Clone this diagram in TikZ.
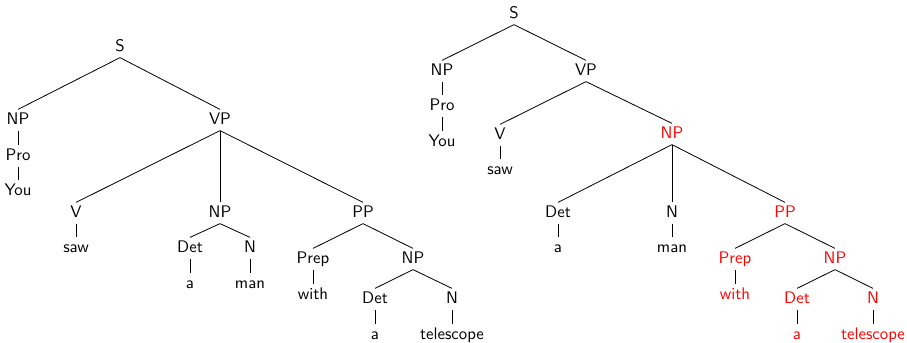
\documentclass[tikz,border=0pt]{standalone}
\begin{document}
\begin{tikzpicture}[x=0.62pt,y=-0.62pt,
  every node/.style={font=\sffamily\fontsize{10.4}{12}\selectfont, inner sep=2.5pt, text height=1.55ex, text depth=0.25ex},
  hl/.style={text=red},
  edge/.style={draw=black, line width=0.5pt}]
\useasboundingbox (0,0) rectangle (907,342);
% ---------- left tree ----------
\node (lS) at (120,47) {S};
\node (lNP) at (18,120) {NP};
\node (lPro) at (18,156) {Pro};
\node (lYou) at (18,191) {You};
\node (lVP) at (220,120) {VP};
\node (lV) at (76,213) {V};
\node (lsaw) at (76,248) {saw};
\node (lNP2) at (220,213) {NP};
\node (lDet) at (190,248) {Det};
\node (la) at (190,284) {a};
\node (lN) at (250,248) {N};
\node (lman) at (250,284) {man};
\node (lPP) at (363,213) {PP};
\node (lPrep) at (313,259) {Prep};
\node (lwith) at (313,295) {with};
\node (lNP3) at (413,259) {NP};
\node (lDet2) at (375,299) {Det};
\node (la2) at (375,335) {a};
\node (lN2) at (452,299) {N};
\node (ltel) at (452,335) {telescope};
\foreach \p/\c in {lS/lNP,lS/lVP,lNP/lPro,lPro/lYou,lVP/lV,lVP/lNP2,lVP/lPP,lV/lsaw,
  lNP2/lDet,lNP2/lN,lDet/la,lN/lman,lPP/lPrep,lPP/lNP3,lPrep/lwith,lNP3/lDet2,lNP3/lN2,lDet2/la2,lN2/ltel}
  \draw[edge] (\p.south) -- (\c.north);
% ---------- right tree ----------
\node (rS) at (514,14) {S};
\node (rNP) at (442,71) {NP};
\node (rPro) at (442,106) {Pro};
\node (rYou) at (442,142) {You};
\node (rVP) at (586,71) {VP};
\node (rV) at (500,135) {V};
\node (rsaw) at (500,170) {saw};
\node[hl] (rNP2) at (672,134) {NP};
\node (rDet) at (558,213) {Det};
\node (ra) at (558,248) {a};
\node (rN) at (672,213) {N};
\node (rman) at (672,248) {man};
\node[hl] (rPP) at (785,213) {PP};
\node[hl] (rPrep) at (735,259) {Prep};
\node[hl] (rwith) at (735,295) {with};
\node[hl] (rNP3) at (835,259) {NP};
\node[hl] (rDet2) at (797,299) {Det};
\node[hl] (ra2) at (797,335) {a};
\node[hl] (rN2) at (873,299) {N};
\node[hl] (rtel) at (873,335) {telescope};
\foreach \p/\c in {rS/rNP,rS/rVP,rNP/rPro,rPro/rYou,rVP/rV,rVP/rNP2,rV/rsaw,
  rNP2/rDet,rNP2/rN,rNP2/rPP,rDet/ra,rN/rman,rPP/rPrep,rPP/rNP3,rPrep/rwith,rNP3/rDet2,rNP3/rN2,rDet2/ra2,rN2/rtel}
  \draw[edge] (\p.south) -- (\c.north);
\end{tikzpicture}
\end{document}
